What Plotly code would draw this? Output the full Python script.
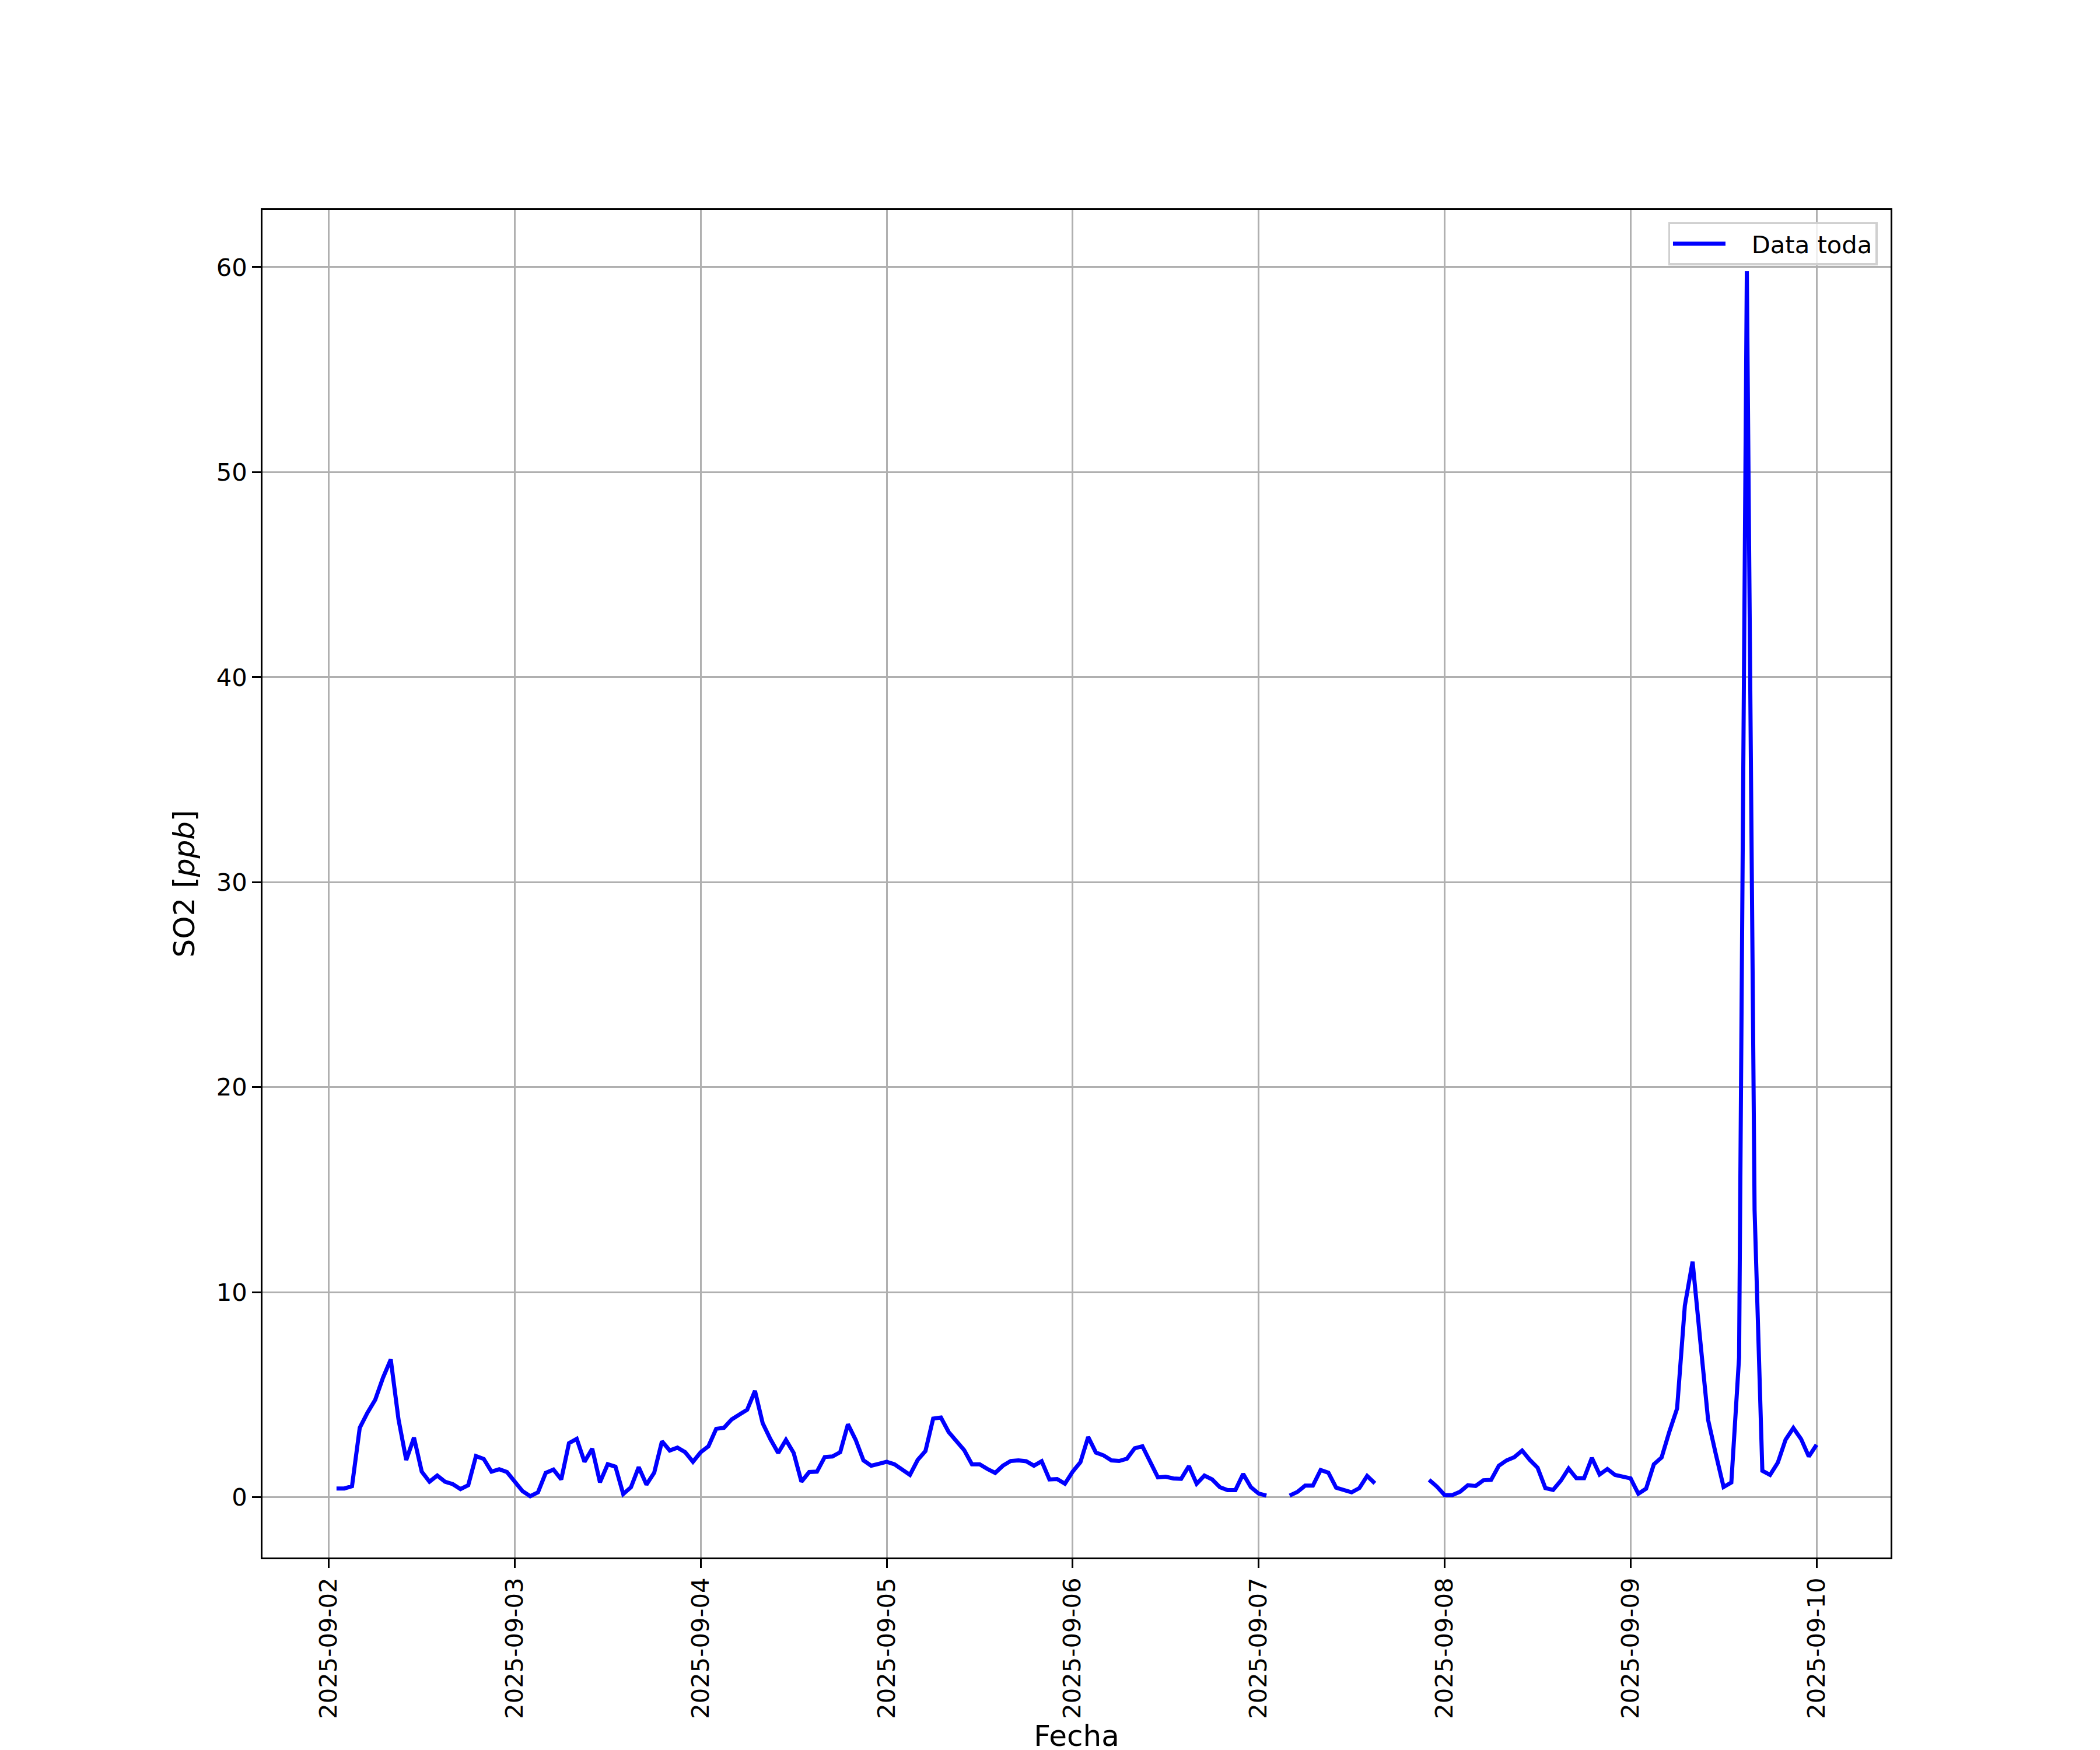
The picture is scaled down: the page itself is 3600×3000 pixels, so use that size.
import pandas as pd
import plotly.graph_objects as go

# Hourly SO2 readings, 2025-09-02 01:00 .. 2025-09-10 00:00 (None = missing)
start_time = "2025-09-02 01:00"
n_hours = 192
day1 = [0.43, 0.43, 0.54, 3.39, 4.13, 4.76, 5.83, 6.72, 3.80, 1.82, 2.91, 1.25,
        0.76, 1.06, 0.76, 0.64, 0.40, 0.59, 2.01, 1.87, 1.25, 1.37, 1.23, 0.76]
day2 = [0.30, 0.05, 0.24, 1.19, 1.35, 0.87, 2.64, 2.85, 1.73, 2.37, 0.73, 1.61,
        1.49, 0.16, 0.49, 1.47, 0.62, 1.20, 2.73, 2.28, 2.42, 2.20, 1.73, 2.20]
day3 = [2.49, 3.34, 3.39, 3.80, 4.01, 4.27, 5.19, 3.61, 2.83, 2.16, 2.80, 2.16,
        0.76, 1.23, 1.25, 1.96, 1.99, 2.20, 3.56, 2.80, 1.80, 1.54, 1.63, 1.73]
day4 = [1.61, 1.35, 1.09, 1.82, 2.25, 3.84, 3.89, 3.18, 2.73, 2.30, 1.61, 1.61,
        1.38, 1.19, 1.54, 1.77, 1.80, 1.76, 1.54, 1.76, 0.87, 0.89, 0.66, 1.25]
day5 = [1.71, 2.94, 2.18, 2.04, 1.80, 1.77, 1.88, 2.39, 2.49, 1.71, 0.97, 1.00,
        0.92, 0.90, 1.52, 0.66, 1.06, 0.87, 0.49, 0.35, 0.35, 1.14, 0.49, 0.18]
day6 = [0.08, None, None, 0.08, 0.26, 0.57, 0.57, 1.33, 1.20, 0.47, 0.33, 0.24,
        0.45, 1.04, 0.68, None, None, None, None, None, None, 0.85, 0.52, 0.11]
day7 = [0.11, 0.27, 0.59, 0.55, 0.83, 0.85, 1.54, 1.80, 1.96, 2.28, 1.82, 1.44,
        0.45, 0.36, 0.81, 1.40, 0.93, 0.93, 1.92, 1.11, 1.38, 1.09, 1.02, 0.92]
day8 = [0.17, 0.42, 1.61, 1.94, 3.20, 4.33, 9.35, 11.49, 7.60, 3.78, 2.10, 0.50,
        0.72, 6.82, 59.80, 14.00, 1.29, 1.09, 1.69, 2.81, 3.38, 2.84, 1.99, 2.56]
so2_values = day1 + day2 + day3 + day4 + day5 + day6 + day7 + day8
times = pd.date_range(start_time, periods=n_hours, freq="h")
assert len(so2_values) == len(times)

series_name = "Data toda"
x_title = "Fecha"
y_title = "SO2 [<i>ppb</i>]"
y_ticks = [0, 10, 20, 30, 40, 50, 60]

# matplotlib-style 5% margins
t0, t1 = times[0], times[-1]
dt = t1 - t0
x_range = [t0 - 0.05 * dt, t1 + 0.05 * dt]
vals = [v for v in so2_values if v is not None]
vmin, vmax = min(vals), max(vals)
dv = vmax - vmin
y_range = [vmin - 0.05 * dv, vmax + 0.05 * dv]

FONT = "DejaVu Sans"
LW = 3.33

fig = go.Figure()
fig.add_trace(go.Scatter(
    x=times, y=so2_values, mode="lines", name="\u00a0\u00a0\u00a0" + series_name,
    line=dict(color="#0000ff", width=7), connectgaps=False,
))

axis_common = dict(
    showline=True, mirror=True, linecolor="black", linewidth=LW,
    ticks="outside", ticklen=14.6, tickwidth=LW, tickcolor="black",
    showgrid=True, gridcolor="#b0b0b0", gridwidth=LW, zeroline=False,
    tickfont=dict(family=FONT, size=41.7, color="black"),
)

fig.update_layout(
    width=3600, height=3000,
    margin=dict(l=442, r=367, t=352, b=338),
    paper_bgcolor="white", plot_bgcolor="white",
    font=dict(family=FONT, color="black"),
    showlegend=True,
    legend=dict(
        x=0.992, y=0.991, xanchor="right", yanchor="top",
        bgcolor="rgba(255,255,255,0.8)", bordercolor="#d0d0d0", borderwidth=3.3,
        font=dict(family=FONT, size=41.7, color="black"),
        itemwidth=90,
    ),
    xaxis=dict(
        type="date", range=x_range, tick0="2025-09-02", dtick=86400000,
        tickformat="%Y-%m-%d", tickangle=-90,
        title=dict(text=x_title, font=dict(family=FONT, size=50, color="black"), standoff=12),
        **axis_common,
    ),
    yaxis=dict(
        range=y_range, tickvals=y_ticks,
        title=dict(text=y_title, font=dict(family=FONT, size=50, color="black"), standoff=22),
        **axis_common,
    ),
)

fig.write_html("out.html")
